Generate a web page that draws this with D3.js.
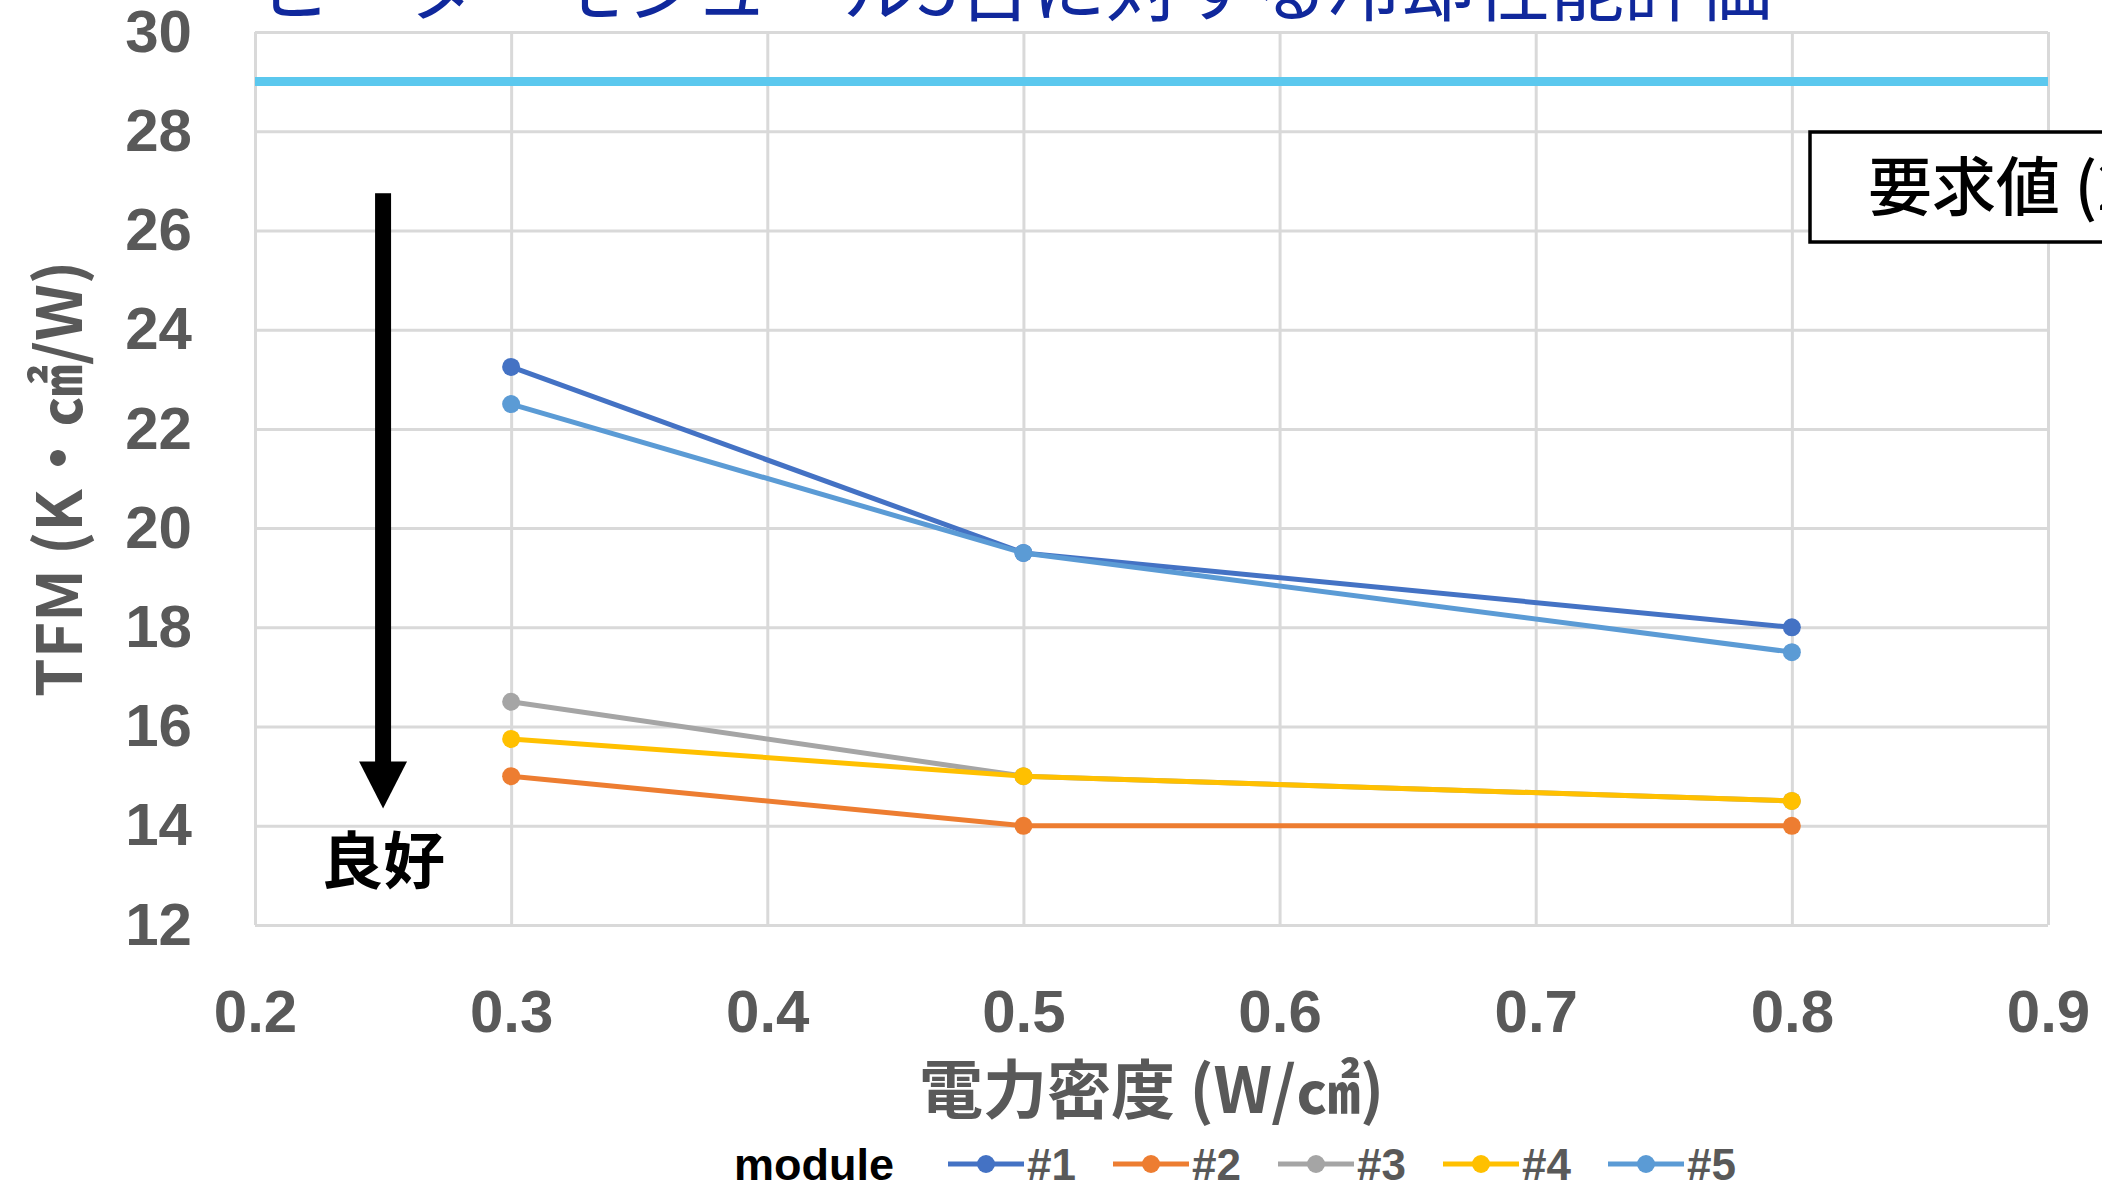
<!DOCTYPE html>
<html>
<head>
<meta charset="utf-8">
<script src="https://cdn.jsdelivr.net/npm/d3@7"></script>
<style>
  html, body { margin: 0; padding: 0; background: #ffffff; overflow: hidden; }
  svg { display: block; }
</style>
</head>
<body>
<svg id="chart" width="2102" height="1189"></svg>
<script>
// Power density (W/cm²) at which each module was measured
const powerDensity = [0.3, 0.5, 0.8];

// TFM (K·cm²/W) per heater module
const seriesNames = ["#1", "#2", "#3", "#4", "#5"];
const tfmModule1 = [23.25, 19.5, 18.0];
const tfmModule2 = [15.0, 14.0, 14.0];
const tfmModule3 = [16.5, 15.0, 14.5];
const tfmModule4 = [15.75, 15.0, 14.5];
const tfmModule5 = [22.5, 19.5, 17.5];
const seriesColors = ["#4472C4", "#ED7D31", "#A5A5A5", "#FFC000", "#5B9BD5"];

// Required value line
const requiredTFM = 29;

// Axis ticks
const xTicks = [0.2, 0.3, 0.4, 0.5, 0.6, 0.7, 0.8, 0.9];
const yTicks = [12, 14, 16, 18, 20, 22, 24, 26, 28, 30];

// "better" arrow annotation, in data units
const arrowX = 0.25;
const arrowFrom = 26.75;
const arrowTo = 14.35;

const series = seriesNames.map((name, i) => ({
  name,
  color: seriesColors[i],
  values: [tfmModule1, tfmModule2, tfmModule3, tfmModule4, tfmModule5][i]
    .map((v, j) => ({ x: powerDensity[j], y: v }))
}));

const svg = d3.select("#chart");
const plotLeft = 255, plotRight = 2048, plotTop = 32, plotBottom = 925;
const x = d3.scaleLinear().domain([0.2, 0.9]).range([plotLeft, plotRight]);
const y = d3.scaleLinear().domain([12, 30]).range([plotBottom, plotTop]);

const gridColor = "#D9D9D9";
const labelColor = "#595959";
const latin = "'Liberation Sans', Arial, sans-serif";
const cjk = "'Noto Sans CJK JP', 'Noto Sans', sans-serif";

// Title (runs off the top of the page)
svg.append("text")
  .attr("x", 256)
  .attr("y", 15)
  .attr("font-family", cjk)
  .attr("font-size", 74)
  .attr("fill", "#10289C")
  .text("ヒーターモジュール5台に対する冷却性能評価");

// Y axis with horizontal gridlines
const yAxis = svg.append("g")
  .attr("transform", `translate(${plotLeft},0)`)
  .call(d3.axisLeft(y).tickValues(yTicks).tickFormat(d3.format("d"))
    .tickSize(-(plotRight - plotLeft)).tickPadding(63));
yAxis.select(".domain").remove();
yAxis.selectAll(".tick line").attr("stroke", gridColor).attr("stroke-width", 3);
yAxis.selectAll(".tick text")
  .attr("font-family", latin).attr("font-weight", "bold")
  .attr("font-size", 60).attr("fill", labelColor);

// X axis with vertical gridlines
const xAxis = svg.append("g")
  .attr("transform", `translate(0,${plotBottom})`)
  .call(d3.axisBottom(x).tickValues(xTicks).tickFormat(d3.format(".1f"))
    .tickSize(-(plotBottom - plotTop)).tickPadding(64));
xAxis.select(".domain").remove();
xAxis.selectAll(".tick line").attr("stroke", gridColor).attr("stroke-width", 3);
xAxis.selectAll(".tick text")
  .attr("font-family", latin).attr("font-weight", "bold")
  .attr("font-size", 60).attr("fill", labelColor);

// Required value line
svg.append("line")
  .attr("x1", x(0.2)).attr("x2", x(0.9))
  .attr("y1", y(requiredTFM)).attr("y2", y(requiredTFM))
  .attr("stroke", "#5BC8EE").attr("stroke-width", 9);

// Required value label box (continues past the right edge)
const boxG = svg.append("g");
boxG.append("rect")
  .attr("x", 1810).attr("y", 132).attr("width", 420).attr("height", 110)
  .attr("fill", "#ffffff").attr("stroke", "#000000").attr("stroke-width", 3.5);
boxG.append("text")
  .attr("x", 1868).attr("y", 210)
  .attr("font-family", cjk).attr("font-weight", 500)
  .attr("font-size", 64).attr("fill", "#000000")
  .text("要求値 (" + requiredTFM + ")");

// Series lines and markers
const line = d3.line().x(d => x(d.x)).y(d => y(d.y));
const sg = svg.append("g").selectAll("g").data(series).join("g");
sg.append("path")
  .attr("d", d => line(d.values))
  .attr("fill", "none")
  .attr("stroke", d => d.color)
  .attr("stroke-width", 5)
  .attr("stroke-linejoin", "round");
sg.selectAll("circle").data(d => d.values.map(v => ({ ...v, color: d.color })))
  .join("circle")
  .attr("cx", d => x(d.x)).attr("cy", d => y(d.y)).attr("r", 9)
  .attr("fill", d => d.color);

// "better" arrow
const ax = x(arrowX);
svg.append("rect")
  .attr("x", ax - 8).attr("y", y(arrowFrom))
  .attr("width", 16).attr("height", y(arrowTo) - y(arrowFrom) - 40)
  .attr("fill", "#000000");
svg.append("path")
  .attr("d", `M${ax - 24},${y(arrowTo) - 47} L${ax + 24},${y(arrowTo) - 47} L${ax},${y(arrowTo)} Z`)
  .attr("fill", "#000000");
svg.append("text")
  .attr("x", ax).attr("y", 884)
  .attr("text-anchor", "middle")
  .attr("font-family", cjk).attr("font-weight", "bold")
  .attr("font-size", 62).attr("fill", "#000000")
  .text("良好");

// Axis titles
svg.append("text")
  .attr("x", (plotLeft + plotRight) / 2).attr("y", 1113)
  .attr("text-anchor", "middle")
  .attr("font-family", cjk).attr("font-weight", "bold")
  .attr("font-size", 64).attr("fill", labelColor)
  .text("電力密度 (W/㎠)");

svg.append("text")
  .attr("transform", "translate(82,479) rotate(-90)")
  .attr("text-anchor", "middle")
  .attr("font-family", cjk).attr("font-weight", "bold")
  .attr("font-size", 62).attr("fill", labelColor)
  .text("TFM (K・㎠/W)");

// Legend
const legend = svg.append("g").attr("transform", "translate(0,1164)");
legend.append("text")
  .attr("x", 734).attr("y", 16)
  .attr("font-family", latin).attr("font-weight", "bold")
  .attr("font-size", 45).attr("fill", "#000000")
  .text("module");
const li = legend.selectAll("g.item").data(series).join("g")
  .attr("class", "item")
  .attr("transform", (d, i) => `translate(${948 + i * 165},0)`);
li.append("line")
  .attr("x1", 0).attr("x2", 76).attr("y1", 0).attr("y2", 0)
  .attr("stroke", d => d.color).attr("stroke-width", 5);
li.append("circle").attr("cx", 38).attr("cy", 0).attr("r", 9)
  .attr("fill", d => d.color);
li.append("text")
  .attr("x", 79).attr("y", 16)
  .attr("font-family", latin).attr("font-weight", "bold")
  .attr("font-size", 44).attr("fill", labelColor)
  .text(d => d.name);
</script>
</body>
</html>
